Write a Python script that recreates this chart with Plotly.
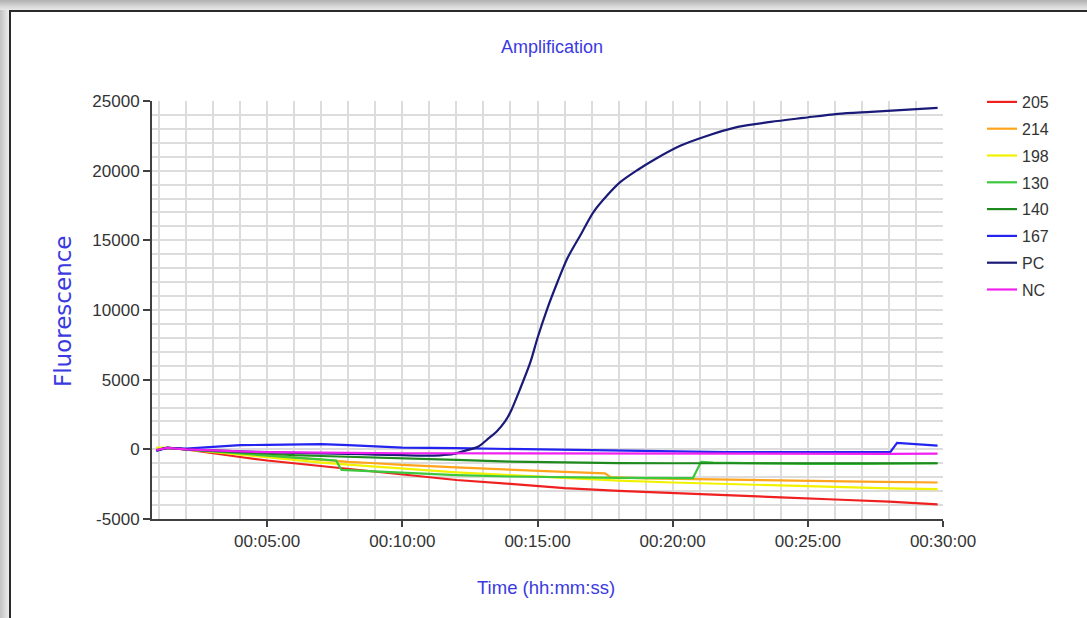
import plotly.graph_objects as go

# ---------------- data (time in minutes, fluorescence) ----------------
t_205 = [0.9, 1.3, 2, 3, 4, 5, 6, 7, 8, 9, 10, 12, 14, 16, 18, 20, 22, 24, 26, 28, 29.8]
y_205 = [0, 100, 0, -300, -550, -800, -1000, -1250, -1450, -1650, -1850, -2200, -2480, -2780, -2980, -3120, -3300, -3450, -3600, -3750, -3950]

t_214 = [0.9, 1.3, 2, 3, 4, 5, 6, 7, 8, 9, 10, 12, 14, 16, 17.5, 17.7, 19, 21, 23, 25, 27, 29.8]
y_214 = [50, 100, 0, -150, -350, -500, -650, -800, -900, -1000, -1120, -1300, -1480, -1620, -1720, -2000, -2080, -2150, -2200, -2260, -2320, -2380]

t_198 = [0.9, 1.3, 2, 3, 4, 5, 6, 7, 8, 9, 10, 12, 14, 16, 18, 20, 22, 24, 26, 28, 29.8]
y_198 = [120, 100, 0, -200, -400, -600, -800, -950, -1100, -1250, -1400, -1650, -1850, -2050, -2250, -2380, -2500, -2600, -2700, -2800, -2850]

t_130 = [0.9, 1.3, 2, 3, 4, 5, 6, 7, 7.55, 7.75, 9, 10, 12, 14, 16, 17.6, 18, 20.75, 21.05, 21.5, 23, 25, 27, 29.8]
y_130 = [-50, 100, 0, -150, -350, -450, -600, -720, -800, -1480, -1600, -1700, -1850, -1950, -2000, -2000, -2050, -2060, -900, -950, -1000, -1050, -1050, -1000]

t_140 = [0.9, 1.3, 2, 3, 4, 5, 6, 7, 8, 9, 10, 12, 14, 16, 18, 20, 22, 24, 26, 28, 29.8]
y_140 = [-80, 100, 0, -100, -250, -350, -420, -480, -530, -580, -620, -760, -880, -950, -990, -1000, -1000, -1050, -1050, -1050, -1000]

t_167 = [0.9, 1.3, 2, 3, 4, 5, 6, 7, 8, 9, 10, 12, 14, 16, 18, 20, 22, 24, 26, 28.05, 28.3, 29.0, 29.8]
y_167 = [-100, 100, 50, 150, 300, 320, 330, 380, 300, 200, 120, 80, 20, -50, -120, -170, -200, -200, -200, -200, 470, 400, 270]

t_pc = [0.9, 1.3, 2.0, 3, 4, 5, 6, 7, 8, 9, 10, 10.8, 11.4, 11.9, 12.4, 12.8, 13.2, 13.5, 13.8, 14.0, 14.37, 14.74,
        15.0, 15.37, 15.74, 16.11, 16.59, 17.07, 17.59, 18.07, 18.7, 19.3, 20.3, 21.15, 22.41, 23.63, 24.85, 26.11,
        27.33, 28.56, 29.8]
y_pc = [-100, 100, 0, -80, -150, -200, -250, -300, -330, -380, -420, -450, -430, -330, -60, 180, 800, 1300, 2000,
        2680, 4400, 6270, 7990, 10140, 12010, 13730, 15380, 17030, 18250, 19190, 20050, 20770, 21800, 22420, 23140,
        23500, 23790, 24080, 24220, 24360, 24510]

t_nc = [0.9, 1.3, 2, 3, 4, 5, 6, 8, 10, 12, 14, 16, 18, 20, 22, 24, 26, 28, 29.8]
y_nc = [-50, 100, 0, -100, -150, -200, -230, -260, -280, -290, -300, -310, -320, -320, -330, -330, -330, -320, -310]

series_names = ["205", "214", "198", "130", "140", "167", "PC", "NC"]
series_colors = ["#f02020", "#ffa41c", "#f2f200", "#3cc83c", "#1e8a1e", "#2424f0", "#1a1a78", "#f020f0"]
series_t = [t_205, t_214, t_198, t_130, t_140, t_167, t_pc, t_nc]
series_y = [y_205, y_214, y_198, y_130, y_140, y_167, y_pc, y_nc]

x_tickvals = [5, 10, 15, 20, 25, 30]
x_ticktext = ["00:05:00", "00:10:00", "00:15:00", "00:20:00", "00:25:00", "00:30:00"]
y_tickvals = [-5000, 0, 5000, 10000, 15000, 20000, 25000]
y_ticktext = ["-5000", "0", "5000", "10000", "15000", "20000", "25000"]

# ---------------- figure ----------------
W, H = 1087, 618
L, R, T, B = 152, 144, 101, 99
PW, PH = W - L - R, H - T - B

def px(xp):
    return (xp - L) / PW

def py(yp):
    return (H - B - yp) / PH

sans = "Liberation Sans, Arial, sans-serif"
blue = "#3a3ae0"

fig = go.Figure()
for name, col, tt, yy in zip(series_names, series_colors, series_t, series_y):
    shape = "spline" if name == "PC" else "linear"
    fig.add_trace(go.Scatter(x=tt, y=yy, mode="lines", name=name, legendgroup=name,
                             line=dict(color=col, width=2.2, shape=shape, smoothing=0.8)))

grid = "#dcdcdc"
fig.update_xaxes(range=[0.74, 30], tickmode="array", tickvals=x_tickvals, ticktext=x_ticktext,
                 showline=True, linecolor="#404040", linewidth=2, ticks="outside", ticklen=6,
                 tickwidth=2, tickcolor="#404040", showgrid=True, gridcolor=grid, gridwidth=1.5,
                 zeroline=False, tickfont=dict(family=sans, size=17, color="#333"),
                 minor=dict(tickvals=list(range(1, 31)), showgrid=True, gridcolor=grid, gridwidth=1.5, ticks=""))
fig.update_yaxes(range=[-5000, 25000], tickmode="array", tickvals=y_tickvals, ticktext=y_ticktext,
                 showline=True, linecolor="#404040", linewidth=2, ticks="outside", ticklen=7,
                 tickwidth=2, tickcolor="#404040", showgrid=True, gridcolor=grid, gridwidth=1.5,
                 zeroline=False, tickfont=dict(family=sans, size=17, color="#333"),
                 minor=dict(tickvals=list(range(-5000, 25001, 1000)), showgrid=True, gridcolor=grid,
                            gridwidth=1.5, ticks=""))

annotations = [
    dict(text="Amplification", x=px(552), y=py(47), xref="paper", yref="paper", showarrow=False,
         xanchor="center", yanchor="middle", font=dict(family=sans, size=18, color=blue)),
    dict(text="Time (hh:mm:ss)", x=px(546), y=py(587), xref="paper", yref="paper", showarrow=False,
         xanchor="center", yanchor="middle", font=dict(family=sans, size=18.5, color=blue)),
    dict(text="Fluorescence", x=px(63), y=py(311), xref="paper", yref="paper", showarrow=False,
         xanchor="center", yanchor="middle", textangle=-90,
         font=dict(family="DejaVu Sans, sans-serif", size=23, color=blue)),
]

shapes = []
top_cols = ["#b4b4b4", "#b9b9b9", "#bfbfbf", "#c5c5c5", "#cbcbcb", "#d1d1d1", "#d7d7d7", "#dcdcdc", "#e1e1e1", "#e6e6e6"]
for i, c in enumerate(top_cols):
    shapes.append(dict(type="rect", xref="paper", yref="paper", x0=px(0), x1=px(W), y0=py(i), y1=py(i + 1),
                       fillcolor=c, line=dict(width=0), layer="above"))
left_cols = ["#c4c4c4", "#c8c8c8", "#cdcdcd", "#d2d2d2", "#d7d7d7", "#dcdcdc", "#e1e1e1", "#e6e6e6", "#ebebeb"]
for i, c in enumerate(left_cols):
    shapes.append(dict(type="rect", xref="paper", yref="paper", x0=px(i), x1=px(i + 1), y0=py(10), y1=py(H),
                       fillcolor=c, line=dict(width=0), layer="above"))
shapes.append(dict(type="line", xref="paper", yref="paper", x0=px(9), x1=px(W), y0=py(11), y1=py(11),
                   line=dict(color="#2a2a2a", width=2), layer="above"))
shapes.append(dict(type="line", xref="paper", yref="paper", x0=px(10), x1=px(10), y0=py(11), y1=py(H),
                   line=dict(color="#2a2a2a", width=2), layer="above"))

fig.update_layout(
    width=W, height=H,
    margin=dict(l=L, r=R, t=T, b=B, pad=0),
    paper_bgcolor="white", plot_bgcolor="white",
    showlegend=True,
    legend=dict(x=px(982), y=py(85), xanchor="left", yanchor="top", bgcolor="rgba(0,0,0,0)",
                font=dict(family=sans, size=16, color="#333"), tracegroupgap=3, itemwidth=30),
    annotations=annotations,
    shapes=shapes,
)

fig.write_html("out.html")
